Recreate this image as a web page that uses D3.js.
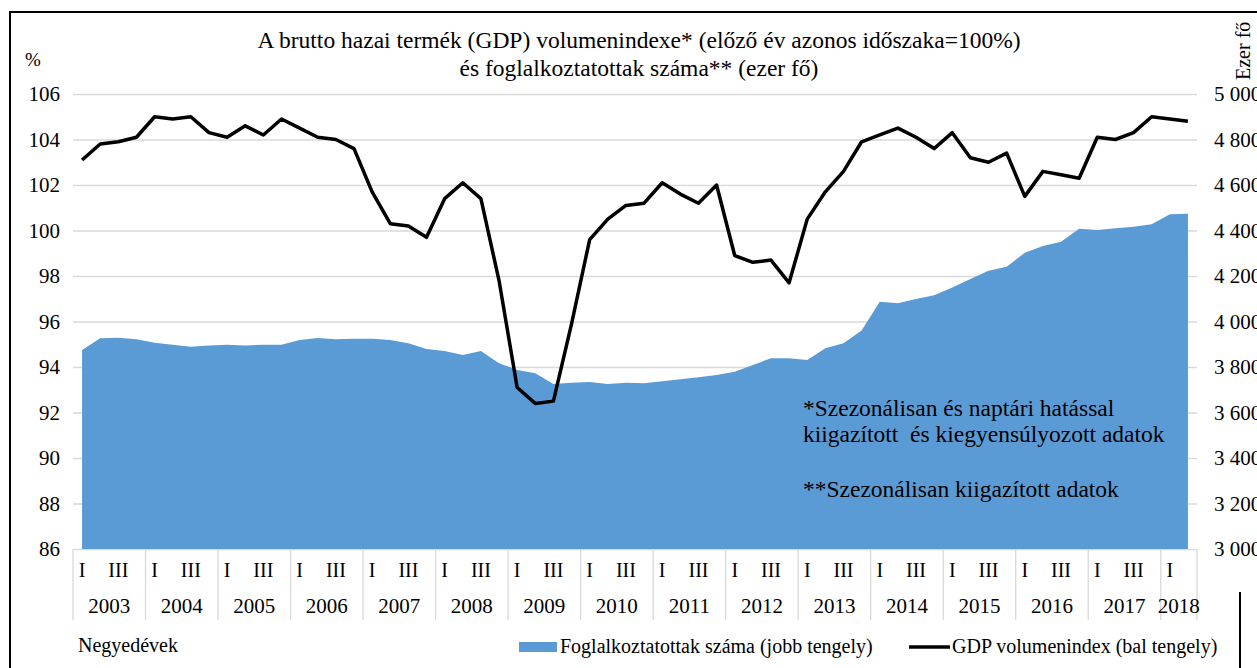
<!DOCTYPE html>
<html>
<head>
<meta charset="utf-8">
<script src="https://cdn.jsdelivr.net/npm/d3@7"></script>
<style>
  body { margin: 0; background: #fff; }
  svg { display: block; }
  svg text { font-family: "Liberation Serif", "Times New Roman", serif; fill: #000; }
</style>
</head>
<body>
<svg width="1257" height="668"></svg>
<script>
  // quarters 2003 Q1 .. 2018 Q2
  const years = [2003, 2004, 2005, 2006, 2007, 2008, 2009, 2010, 2011, 2012, 2013, 2014, 2015, 2016, 2017, 2018];
  const quarterNames = ['I', 'II', 'III', 'IV'];
  const lastYearQuarters = 2;

  // GDP volume index, same period of previous year = 100 (left axis)
  const gdp = [
    103.1, 103.8, 103.9, 104.1,
    105.0, 104.9, 105.0, 104.3,
    104.1, 104.6, 104.2, 104.9,
    104.5, 104.1, 104.0, 103.6,
    101.7, 100.3, 100.2, 99.7,
    101.4, 102.1, 101.4, 97.8,
    93.1, 92.4, 92.5, 95.9,
    99.6, 100.5, 101.1, 101.2,
    102.1, 101.6, 101.2, 102.0,
    98.9, 98.6, 98.7, 97.7,
    100.5, 101.7, 102.6, 103.9,
    104.2, 104.5, 104.1, 103.6,
    104.3, 103.2, 103.0, 103.4,
    101.5, 102.6, 102.45, 102.3,
    104.1, 104.0, 104.3, 105.0,
    104.9, 104.8
  ];

  // employed persons, thousand (right axis)
  const employed = [
    3875, 3926, 3929, 3922,
    3907, 3898, 3889, 3895,
    3898, 3895, 3898, 3898,
    3919, 3927, 3922, 3924,
    3924, 3919, 3904, 3879,
    3870, 3853, 3870, 3816,
    3787, 3772, 3725, 3731,
    3734, 3725, 3731, 3729,
    3737, 3746, 3755, 3765,
    3779, 3809, 3838, 3838,
    3831, 3882, 3904, 3960,
    4087, 4080, 4099, 4115,
    4150, 4187, 4223, 4241,
    4302, 4332, 4351, 4408,
    4402, 4410, 4417, 4427,
    4471, 4474
  ];

  const leftTicks = [86, 88, 90, 92, 94, 96, 98, 100, 102, 104, 106];
  const rightTicks = [3000, 3200, 3400, 3600, 3800, 4000, 4200, 4400, 4600, 4800, 5000];

  const titleLines = [
    'A brutto hazai termék (GDP) volumenindexe* (előző év azonos időszaka=100%)',
    'és foglalkoztatottak száma** (ezer fő)'
  ];
  const notes = [
    '*Szezonálisan és naptári hatással',
    'kiigazított  és kiegyensúlyozott adatok',
    '**Szezonálisan kiigazított adatok'
  ];

  const svg = d3.select('svg');
  const width = +svg.attr('width');
  const height = +svg.attr('height');

  const margin = { top: 94, right: 60, bottom: 119, left: 73 };
  const innerWidth = width - margin.left - margin.right;
  const innerHeight = height - margin.top - margin.bottom;

  const quarters = [];
  years.forEach((y, yi) => {
    const n = yi === years.length - 1 ? lastYearQuarters : 4;
    for (let q = 0; q < n; q++) quarters.push({ key: y + '-' + (q + 1), year: y, q: quarterNames[q] });
  });
  const data = quarters.map((d, i) => ({ ...d, gdp: gdp[i], employed: employed[i] }));

  const xScale = d3.scaleBand()
    .domain(quarters.map(d => d.key))
    .range([0, innerWidth])
    .padding(0);
  const xMid = d => xScale(d.key) + xScale.bandwidth() / 2;

  const yLeft = d3.scaleLinear().domain([86, 106]).range([innerHeight, 0]);
  const yRight = d3.scaleLinear().domain([3000, 5000]).range([innerHeight, 0]);

  const g = svg.append('g')
    .attr('transform', `translate(${margin.left},${margin.top})`);

  // left axis with gridlines
  const yAxisG = g.append('g')
    .call(d3.axisLeft(yLeft).tickValues(leftTicks).tickSize(-innerWidth).tickPadding(13));
  yAxisG.select('.domain').remove();
  yAxisG.selectAll('line').attr('stroke', '#d9d9d9').attr('stroke-width', 1.3);
  yAxisG.selectAll('text').style('font-size', '21px');

  // right axis
  const fmt = v => d3.format(',')(v).replace(/,/g, ' ');
  const yAxisRG = g.append('g')
    .attr('transform', `translate(${innerWidth},0)`)
    .call(d3.axisRight(yRight).tickValues(rightTicks).tickSize(0).tickPadding(17).tickFormat(fmt));
  yAxisRG.select('.domain').remove();
  yAxisRG.selectAll('text').style('font-size', '21px');

  // employed area
  const areaGenerator = d3.area()
    .x(xMid)
    .y0(yRight(3000))
    .y1(d => yRight(d.employed));
  g.append('path')
    .attr('d', areaGenerator(data))
    .attr('fill', '#5b9bd5');

  // gdp line
  const lineGenerator = d3.line()
    .x(xMid)
    .y(d => yLeft(d.gdp));
  g.append('path')
    .attr('d', lineGenerator(data))
    .attr('fill', 'none')
    .attr('stroke', '#000')
    .attr('stroke-width', 3.5)
    .attr('stroke-linejoin', 'round');

  // category axis: quarters and years
  const xAxisG = g.append('g')
    .attr('transform', `translate(0,${innerHeight})`)
    .call(d3.axisBottom(xScale)
      .tickSize(0)
      .tickPadding(0)
      .tickFormat(k => {
        const q = quarters.find(d => d.key === k).q;
        return q === 'I' || q === 'III' ? q : '';
      }));
  xAxisG.select('.domain').remove();
  xAxisG.selectAll('text')
    .attr('y', 28)
    .attr('dy', 0)
    .style('font-size', '20px');

  const yearBounds = years.map(y => xScale(y + '-1'));
  yearBounds.push(innerWidth);
  xAxisG.selectAll('.sep')
    .data(yearBounds)
    .enter().append('line')
      .attr('class', 'sep')
      .attr('x1', d => d).attr('x2', d => d)
      .attr('y1', 0).attr('y2', 71)
      .attr('stroke', '#d9d9d9')
      .attr('stroke-width', 1.3);

  xAxisG.selectAll('.year')
    .data(years)
    .enter().append('text')
      .attr('class', 'year')
      .attr('x', (y, i) => (yearBounds[i] + yearBounds[i + 1]) / 2)
      .attr('y', 64)
      .attr('text-anchor', 'middle')
      .style('font-size', '21px')
      .text(y => y);

  // titles
  svg.append('g').selectAll('text')
    .data(titleLines)
    .enter().append('text')
      .attr('x', 639)
      .attr('y', (d, i) => 48 + i * 28)
      .attr('text-anchor', 'middle')
      .style('font-size', '23.5px')
      .style('white-space', 'pre')
      .text(d => d);

  svg.append('text')
    .attr('x', 25).attr('y', 66)
    .style('font-size', '19px')
    .text('%');

  svg.append('text')
    .attr('transform', 'translate(1250,80) rotate(-90)')
    .style('font-size', '20px')
    .text('Ezer fő');

  // notes
  svg.append('g').selectAll('text')
    .data(notes)
    .enter().append('text')
      .attr('x', 803)
      .attr('y', (d, i) => [416, 442, 497][i])
      .style('font-size', '23.5px')
      .style('white-space', 'pre')
      .text(d => d);

  // legend
  const legend = svg.append('g').style('font-size', '20px');
  legend.append('text').attr('x', 78).attr('y', 652).text('Negyedévek');
  legend.append('rect')
    .attr('x', 519).attr('y', 642).attr('width', 38).attr('height', 10)
    .attr('fill', '#5b9bd5');
  legend.append('text').attr('x', 560).attr('y', 653).text('Foglalkoztatottak száma (jobb tengely)');
  legend.append('line')
    .attr('x1', 909).attr('x2', 950).attr('y1', 647).attr('y2', 647)
    .attr('stroke', '#000').attr('stroke-width', 3.5);
  legend.append('text').attr('x', 952).attr('y', 653).text('GDP volumenindex (bal tengely)');

  // frame
  svg.append('path')
    .attr('d', 'M10,668 V12 H1257')
    .attr('fill', 'none')
    .attr('stroke', '#000')
    .attr('stroke-width', 2);
  svg.append('line')
    .attr('x1', 1240).attr('x2', 1240).attr('y1', 592).attr('y2', 668)
    .attr('stroke', '#000')
    .attr('stroke-width', 2);
</script>
</body>
</html>
